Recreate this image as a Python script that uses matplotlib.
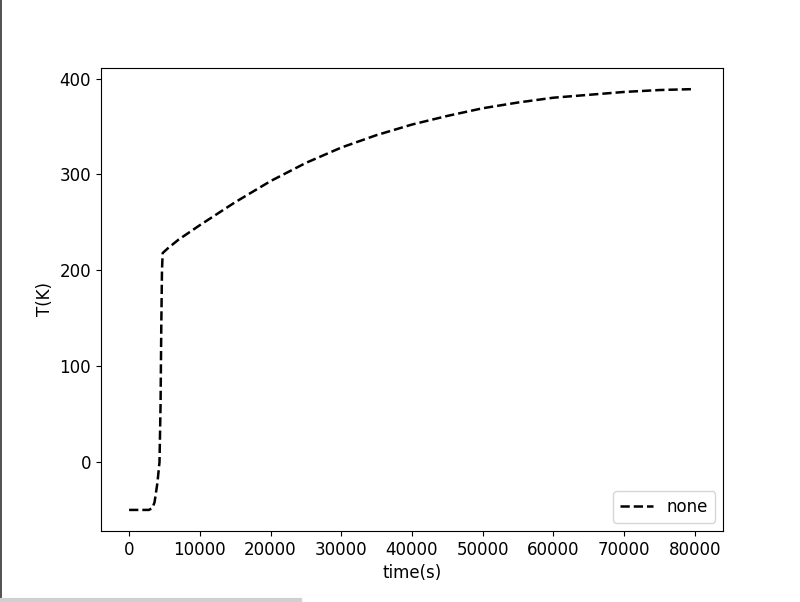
import matplotlib
matplotlib.use("Agg")
import matplotlib.pyplot as plt
from matplotlib.lines import Line2D

# time (s) and temperature (K)
time_s = [0, 1000, 2000, 2800, 3300, 3600, 4000, 4300, 4450, 4550, 4650, 4750,
          5500, 7000, 10000, 15000, 20000, 25000, 30000, 35000, 40000, 45000,
          50000, 55000, 60000, 65000, 70000, 75000, 80000]
temp_k = [-50, -50, -50, -50, -48, -42, -22, 0, 60, 140, 200, 218,
          223, 232, 247, 271, 293, 312, 328, 341, 352, 361,
          369, 375, 380, 383, 386, 388, 389]

plt.rcParams['font.size'] = 12

fig = plt.figure(figsize=(8, 6.02), dpi=100)
ax = fig.add_axes([0.126, 0.118, 0.778, 0.769])
ax.plot(time_s, temp_k, '--', color='k', lw=1.8, label='none')
ax.set_xlabel("time(s)")
ax.set_ylabel("T(K)")
ax.legend(loc='lower right')

# screenshot edges
fig.add_artist(Line2D([0.001, 0.001], [0, 1], color='#333333', lw=1.2))
fig.add_artist(Line2D([0, 0.375], [0.003, 0.003], color='#d0d0d0', lw=3))

fig.savefig("out.png", dpi=100)
